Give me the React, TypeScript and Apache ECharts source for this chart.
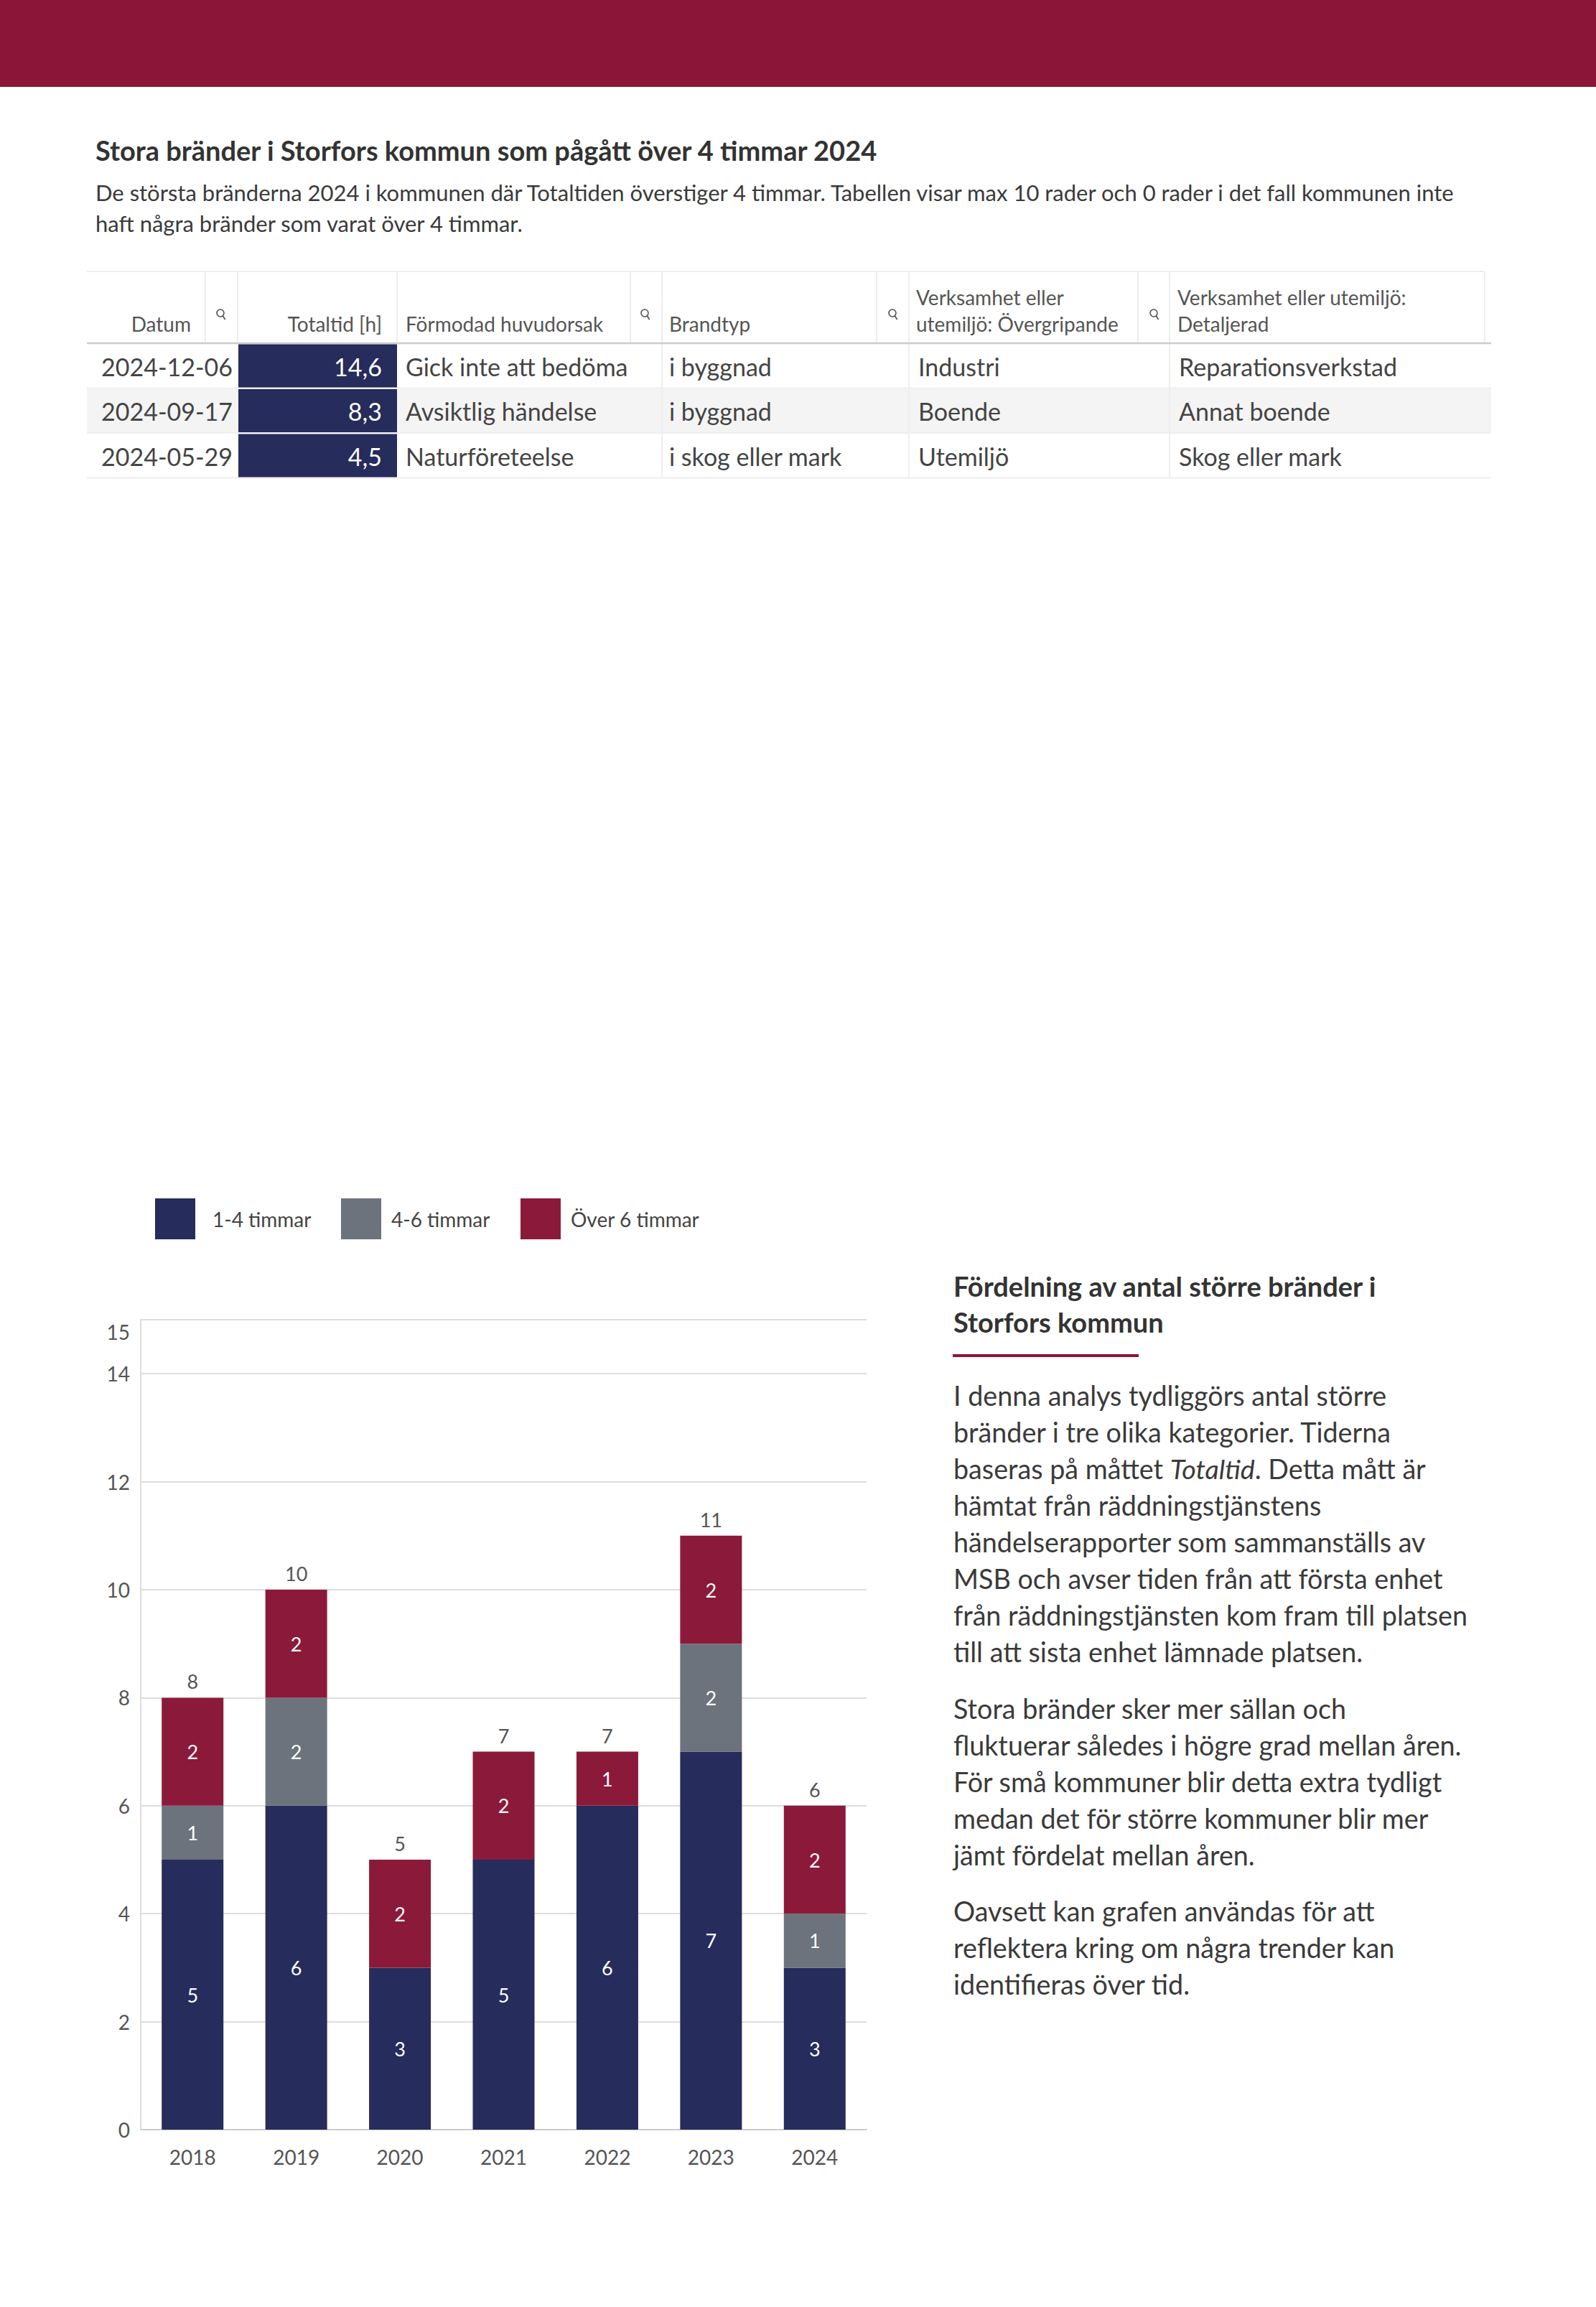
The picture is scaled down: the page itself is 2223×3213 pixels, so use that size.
import React, { useEffect, useRef } from "react";
import * as echarts from "echarts";

// ---------- Data ----------
const years = ["2018", "2019", "2020", "2021", "2022", "2023", "2024"];
const seriesNames = ["1-4 timmar", "4-6 timmar", "Över 6 timmar"];
const h1to4 = [5, 6, 3, 5, 6, 7, 3];
const h4to6 = [1, 2, 0, 0, 0, 2, 1];
const over6 = [2, 2, 2, 2, 1, 2, 2];
const totals = [8, 10, 5, 7, 7, 11, 6];
const yMax = 15;
const yInterval = 2;

const pageTitle = "Stora bränder i Storfors kommun som pågått över 4 timmar 2024";
const pageSubtitle = [
  "De största bränderna 2024 i kommunen där Totaltiden överstiger 4 timmar. Tabellen visar max 10 rader och 0 rader i det fall kommunen inte",
  "haft några bränder som varat över 4 timmar.",
];

const tableHeaders = [
  "Datum",
  "Totaltid [h]",
  "Förmodad huvudorsak",
  "Brandtyp",
  "Verksamhet eller\nutemiljö: Övergripande",
  "Verksamhet eller utemiljö:\nDetaljerad",
];
const datum = ["2024-12-06", "2024-09-17", "2024-05-29"];
const totaltid = ["14,6", "8,3", "4,5"];
const orsak = ["Gick inte att bedöma", "Avsiktlig händelse", "Naturföreteelse"];
const brandtyp = ["i byggnad", "i byggnad", "i skog eller mark"];
const overgripande = ["Industri", "Boende", "Utemiljö"];
const detaljerad = ["Reparationsverkstad", "Annat boende", "Skog eller mark"];

const sideHeading = ["Fördelning av antal större bränder i", "Storfors kommun"];
const sideParagraphs = [
  [
    "I denna analys tydliggörs antal större",
    "bränder i tre olika kategorier. Tiderna",
    "baseras på måttet {i|Totaltid}. Detta mått är",
    "hämtat från räddningstjänstens",
    "händelserapporter som sammanställs av",
    "MSB och avser tiden från att första enhet",
    "från räddningstjänsten kom fram till platsen",
    "till att sista enhet lämnade platsen.",
  ],
  [
    "Stora bränder sker mer sällan och",
    "fluktuerar således i högre grad mellan åren.",
    "För små kommuner blir detta extra tydligt",
    "medan det för större kommuner blir mer",
    "jämt fördelat mellan åren.",
  ],
  [
    "Oavsett kan grafen användas för att",
    "reflektera kring om några trender kan",
    "identifieras över tid.",
  ],
];

// ---------- Styles ----------
const F = 'Lato, "Noto Sans", sans-serif';
const NAVY = "#262C5B";
const GRAY = "#6C737C";
const CRIMSON = "#8B1A3A";
const BAND = "#8B1538";
const TEXT = "#3a3a3a";

function buildGraphics() {
  const els: any[] = [];
  els.push({ type: "rect", shape: { x: 0, y: 0, width: 2223, height: 121 }, style: { fill: BAND }, silent: true });

  els.push({
    type: "text",
    style: { text: pageTitle, x: 133, y: 209, fontSize: 38, fontWeight: "bold", fontFamily: F, fill: "#333", textVerticalAlign: "middle" },
  });
  pageSubtitle.forEach((t, i) => {
    els.push({
      type: "text",
      style: { text: t, x: 133, y: 268 + i * 43, fontSize: 31, fontFamily: F, fill: TEXT, textVerticalAlign: "middle" },
    });
  });

  // ----- table -----
  const tLeft = 121;
  const tRight = 2067;
  const rowRight = 2077;
  const headTop = 378;
  const headBottom = 478;
  const rowH = 62.5;

  els.push({ type: "rect", shape: { x: tLeft, y: headBottom + rowH, width: rowRight - tLeft, height: rowH }, style: { fill: "#F4F4F4" } });

  els.push({ type: "line", shape: { x1: tLeft, y1: headTop, x2: tRight, y2: headTop }, style: { stroke: "#EEEEEE", lineWidth: 2 } });
  [286, 331, 553, 878, 922, 1221, 1266, 1585, 1629, 2068].forEach((x) => {
    els.push({ type: "line", shape: { x1: x, y1: headTop, x2: x, y2: headBottom }, style: { stroke: "#EEEEEE", lineWidth: 2 } });
  });
  [922, 1266, 1629].forEach((x) => {
    els.push({ type: "line", shape: { x1: x, y1: headBottom, x2: x, y2: headBottom + 3 * rowH }, style: { stroke: "#EEEEEE", lineWidth: 2 } });
  });

  const headerX = [266, 532, 565, 932, 1276, 1640];
  const headerAlign = ["right", "right", "left", "left", "left", "left"];
  tableHeaders.forEach((h, i) => {
    els.push({
      type: "text",
      style: {
        text: h, x: headerX[i], y: 469, fontSize: 28, lineHeight: 37, fontFamily: F, fill: "#555",
        textAlign: headerAlign[i], textVerticalAlign: "bottom",
      },
    });
  });

  [307, 898, 1243, 1607].forEach((x) => {
    els.push({ type: "circle", shape: { cx: x, cy: 436, r: 5 }, style: { fill: "none", stroke: "#555", lineWidth: 1.6 } });
    els.push({ type: "line", shape: { x1: x + 3.5, y1: 440, x2: x + 6.5, y2: 445 }, style: { stroke: "#555", lineWidth: 1.8 } });
  });

  els.push({ type: "line", shape: { x1: tLeft, y1: headBottom, x2: rowRight, y2: headBottom }, style: { stroke: "#CCCCCC", lineWidth: 2.5 } });

  const cols = [datum, totaltid, orsak, brandtyp, overgripande, detaljerad];
  const cellX = [141, 532, 565, 932, 1279, 1642];
  for (let r = 0; r < datum.length; r++) {
    const top = headBottom + r * rowH;
    els.push({ type: "rect", shape: { x: 332, y: top + 1.5, width: 221, height: rowH - 1.5 }, style: { fill: NAVY } });
    els.push({ type: "line", shape: { x1: tLeft, y1: top + rowH, x2: rowRight, y2: top + rowH }, style: { stroke: "#EEEEEE", lineWidth: 2 } });
    cols.forEach((col, c) => {
      els.push({
        type: "text",
        z: 10,
        style: {
          text: col[r], x: cellX[c], y: top + rowH / 2 + 1, fontSize: 34, fontFamily: F,
          fill: c === 1 ? "#FFFFFF" : "#444",
          textAlign: c === 1 ? "right" : "left", textVerticalAlign: "middle",
        },
      });
    });
  }

  // ----- side text -----
  sideHeading.forEach((t, i) => {
    els.push({
      type: "text",
      style: { text: t, x: 1328, y: 1791 + i * 50, fontSize: 38, fontWeight: "bold", fontFamily: F, fill: "#333", textVerticalAlign: "middle" },
    });
  });
  els.push({ type: "rect", shape: { x: 1327, y: 1886, width: 259, height: 4 }, style: { fill: BAND } });

  const paraStart = [1943, 2379, 2661];
  sideParagraphs.forEach((lines, p) => {
    lines.forEach((t, i) => {
      els.push({
        type: "text",
        style: {
          text: t, x: 1328, y: paraStart[p] + i * 51, fontSize: 37.7, fontFamily: F, fill: TEXT, textVerticalAlign: "middle",
          rich: { i: { fontStyle: "italic", fontSize: 37.7, fontFamily: F, fill: TEXT } },
        },
      });
    });
  });
  return els;
}

export default function App() {
  const ref = useRef<HTMLDivElement>(null);
  useEffect(() => {
    if (!ref.current) return;
    const chart = echarts.init(ref.current, undefined, { renderer: "svg" });
    const colors = [NAVY, GRAY, CRIMSON];
    const dataSets = [h1to4, h4to6, over6];
    const legendLeft = [216, 475, 725];
    const legendPad = [19, 9, 9];
    const option: any = {
      animation: false,
      backgroundColor: "#FFFFFF",
      textStyle: { fontFamily: F },
      legend: seriesNames.map((n, i) => ({
        data: [n],
        left: legendLeft[i],
        top: 1669,
        padding: 0,
        itemWidth: 56,
        itemHeight: 57,
        icon: "rect",
        selectedMode: false,
        textStyle: { fontSize: 28, color: "#444", fontFamily: F, padding: [0, 0, 0, legendPad[i]] },
      })),
      grid: { left: 196, top: 1838, width: 1011, height: 1128, containLabel: false },
      xAxis: {
        type: "category",
        data: years,
        axisLine: { show: true, lineStyle: { color: "#CCCCCC", width: 2 } },
        axisTick: { show: false },
        axisLabel: { fontSize: 28, color: "#555", margin: 24, fontFamily: F },
      },
      yAxis: {
        type: "value",
        min: 0,
        max: yMax,
        interval: yInterval,
        axisLine: { show: true, lineStyle: { color: "#DDDDDD", width: 2 } },
        axisTick: { show: false },
        splitLine: { show: true, lineStyle: { color: "#DDDDDD", width: 2 } },
        axisLabel: {
          fontSize: 28,
          color: "#555",
          margin: 15,
          fontFamily: F,
          formatter: (v: number) => (v === yMax ? `{top|${v}}` : `${v}`),
          rich: { top: { fontSize: 28, color: "#555", fontFamily: F, padding: [34, 0, 0, 0] } },
        },
      },
      series: [
        ...seriesNames.map((n, i) => ({
          name: n,
          type: "bar",
          stack: "total",
          data: dataSets[i],
          barWidth: 86,
          itemStyle: { color: colors[i] },
          label: {
            show: true,
            position: "inside",
            color: "#FFFFFF",
            fontSize: 27,
            fontFamily: F,
            formatter: (p: any) => (p.value ? String(p.value) : ""),
          },
        })),
        {
          name: "Totalt",
          type: "line",
          data: totals,
          symbol: "circle",
          symbolSize: 2,
          itemStyle: { color: "rgba(0,0,0,0)" },
          lineStyle: { width: 0, color: "rgba(0,0,0,0)" },
          label: { show: true, position: "top", distance: 8, color: "#555", fontSize: 27, fontFamily: F },
          silent: true,
          z: 5,
        },
      ],
      graphic: { elements: buildGraphics() },
    };
    chart.setOption(option);
    return () => chart.dispose();
  }, []);
  return (
    <div
      ref={ref}
      style={{ position: "absolute", left: 0, top: 0, width: 2223, height: 3213, background: "#FFFFFF" }}
    />
  );
}
